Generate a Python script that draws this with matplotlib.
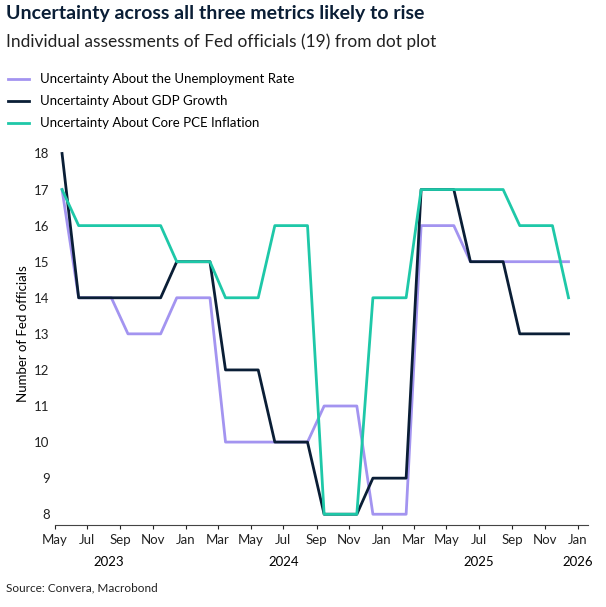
import numpy as np
import pandas as pd
import matplotlib.pyplot as plt
import matplotlib.dates as mdates
import matplotlib.transforms as mtransforms

plt.rcParams['font.family'] = ['Lato', 'DejaVu Sans']

dates = pd.date_range("2023-05-01", periods=32, freq="MS") + pd.Timedelta(days=14)

unemployment = [17, 14, 14, 14, 13, 13, 13, 14, 14, 14, 10, 10, 10, 10, 10, 10,
                11, 11, 11, 8, 8, 8, 16, 16, 16, 15, 15, 15, 15, 15, 15, 15]
gdp = [18, 14, 14, 14, 14, 14, 14, 15, 15, 15, 12, 12, 12, 10, 10, 10,
       8, 8, 8, 9, 9, 9, 17, 17, 17, 15, 15, 15, 13, 13, 13, 13]
pce = [17, 16, 16, 16, 16, 16, 16, 15, 15, 15, 14, 14, 14, 16, 16, 16,
       8, 8, 8, 14, 14, 14, 17, 17, 17, 17, 17, 17, 16, 16, 16, 14]

fig = plt.figure(figsize=(6.06, 6.07), dpi=100)
ax = fig.add_axes([0.09, 0.135, 0.88, 0.63])

ax.plot(dates, unemployment, color="#a394f0", lw=2, label="Uncertainty About the Unemployment Rate")
ax.plot(dates, gdp, color="#0a1e36", lw=2, label="Uncertainty About GDP Growth")
ax.plot(dates, pce, color="#1ec8a8", lw=2, label="Uncertainty About Core PCE Inflation")

ax.set_xlim(pd.Timestamp("2023-05-01"), pd.Timestamp("2026-01-20"))
ax.set_ylim(7.7, 18.3)
ax.set_yticks(range(8, 19))
ax.xaxis.set_major_locator(mdates.MonthLocator(bymonth=[1, 3, 5, 7, 9, 11]))
ax.xaxis.set_major_formatter(mdates.DateFormatter("%b"))
ax.tick_params(axis="both", labelsize=9.5, length=3, colors="#222222")
ax.tick_params(axis="y", length=0)
for s in ["top", "right", "left"]:
    ax.spines[s].set_visible(False)
ax.spines["bottom"].set_color("#444444")
ax.set_ylabel("Number of Fed officials", fontsize=9.5)

trans = mtransforms.blended_transform_factory(ax.transData, ax.transAxes)
for label, d in [("2023", "2023-08-10"), ("2024", "2024-07-01"),
                 ("2025", "2025-07-01"), ("2026", "2026-01-01")]:
    ax.text(pd.Timestamp(d), -0.08, label, transform=trans, ha="center", va="top", fontsize=9.5)

fig.text(0.01, 0.968, "Uncertainty across all three metrics likely to rise",
         fontsize=14, fontweight="bold", color="#0a1e36")
fig.text(0.01, 0.922, "Individual assessments of Fed officials (19) from dot plot",
         fontsize=12.5, color="#222222")
fig.legend(loc="upper left", bbox_to_anchor=(0.0, 0.892), frameon=False, fontsize=9.5,
           handlelength=1.6, labelspacing=0.75, borderaxespad=0.2)
fig.text(0.01, 0.025, "Source: Convera, Macrobond", fontsize=8.5, color="#222222")

fig.savefig("out.png", dpi=100)
